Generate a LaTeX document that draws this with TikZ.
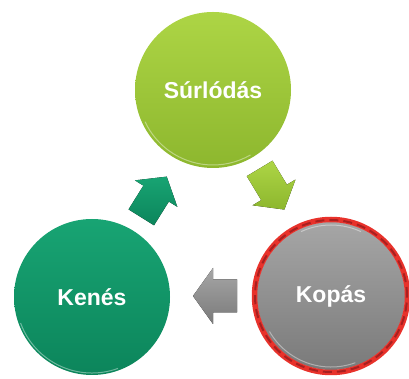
\documentclass[tikz,border=0pt]{standalone}
\usepackage{fontspec}
\setmainfont{Liberation Sans}

\definecolor{limetop}{HTML}{ADD545}
\definecolor{limebot}{HTML}{8DB72E}
\definecolor{jadetop}{HTML}{18A473}
\definecolor{jadebot}{HTML}{0C855B}
\definecolor{greytop}{HTML}{A6A6A6}
\definecolor{greybot}{HTML}{7A7A7A}
\definecolor{ringred}{HTML}{E8322B}
\definecolor{ringdark}{HTML}{A82020}

\tikzset{
  stage/.style={circle, inner sep=0pt, minimum size=156pt, text=white,
    font=\bfseries\fontsize{23}{25}\selectfont},
  shine/.style={white, opacity=0.4, line width=1pt}
}

% Block arrow: centre, angle, half length, half head width, half shaft width, head length
\newcommand{\blockarrow}[7]{%
  \begin{scope}[shift={#1}, rotate=#2]
    \fill[#7] (-#3, -#5) -- ({#3-#6}, -#5) -- ({#3-#6}, -#4) -- (#3, 0)
      -- ({#3-#6}, #4) -- ({#3-#6}, #5) -- (-#3, #5) -- cycle;
  \end{scope}}

\begin{document}
\begin{tikzpicture}[x=1pt, y=1pt]
  % Frame of the picture.
  \useasboundingbox (0, 0) rectangle (409, 379);

  % Top circle.
  \node[stage, top color=limetop, bottom color=limebot] (surl) at (213, 289) {Súrlódás};
  % Left circle.
  \node[stage, top color=jadetop, bottom color=jadebot] (kenes) at (92, 82) {Kenés};
  % Right circle.
  \node[stage, minimum size=148pt, top color=greytop, bottom color=greybot] (kopas) at (331, 83) {Kopás};

  % Red ring round the right circle.
  \draw[ringred, line width=5.5pt] (kopas.center) circle (76.5);
  \draw[ringdark, line width=2pt, dash pattern=on 9pt off 5pt] (kopas.center) circle (76);

  % Light rims.
  \draw[shine] (surl.center) ++(205:75) arc (205:300:75);
  \draw[shine] (kenes.center) ++(200:76) arc (200:290:76);
  \draw[shine] (kopas.center) ++(65:71) arc (65:115:71);
  \draw[shine] (kopas.center) ++(210:71) arc (210:290:71);

  % Arrow from left circle to top circle.
  \blockarrow{(154, 182)}{58}{24}{25}{15}{20}{top color=jadetop, bottom color=jadebot}
  % Arrow from top circle to right circle.
  \blockarrow{(272, 190)}{-59}{24}{25}{15}{20}{top color=limetop, bottom color=limebot}
  % Arrow from right circle to left circle.
  \blockarrow{(215, 83)}{180}{22}{28}{16.5}{20}{top color=greytop, bottom color=greybot}
\end{tikzpicture}
\end{document}
